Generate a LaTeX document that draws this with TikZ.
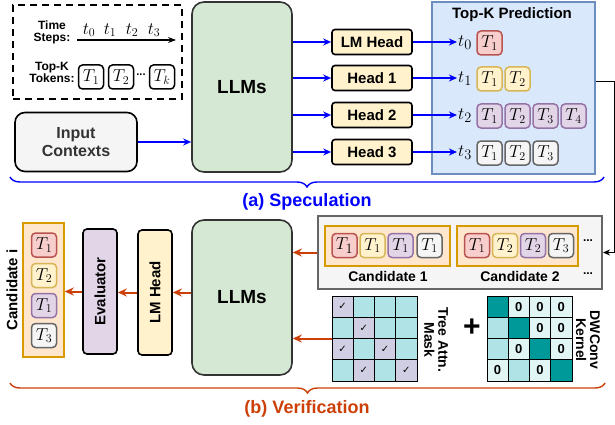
\documentclass[tikz,border=0pt]{standalone}
\usepackage{fontspec}
\setmainfont{Liberation Sans}
\newfontfamily\checkfont{DejaVu Sans}
\usepackage{graphicx}
\usetikzlibrary{arrows.meta}
\usetikzlibrary{decorations.pathreplacing}
\newcommand{\pxfont}[1]{\fontsize{#1}{#1}\selectfont}
\definecolor{specblue}{RGB}{0,0,255}
\definecolor{verorange}{RGB}{204,64,8}
\definecolor{llmfill}{HTML}{D5E8D4}
\definecolor{headfill}{HTML}{FFF2CC}
\definecolor{predfill}{HTML}{DAE8FC}
\definecolor{predline}{HTML}{6C8EBF}
\definecolor{redfill}{HTML}{F8CECC}
\definecolor{redline}{HTML}{B85450}
\definecolor{yelfill}{HTML}{FFF2CC}
\definecolor{yelline}{HTML}{D6B656}
\definecolor{purfill}{HTML}{E1D5E7}
\definecolor{purline}{HTML}{9673A6}
\definecolor{grayfill}{HTML}{F5F5F5}
\definecolor{grayline}{HTML}{666666}
\definecolor{candfill}{HTML}{FFE6CC}
\definecolor{candline}{HTML}{D79B00}
\definecolor{maskcell}{HTML}{B0E3E6}
\definecolor{maskpick}{HTML}{D0CEE2}
\definecolor{kerndiag}{HTML}{009999}
\definecolor{kernzero}{HTML}{E1F5F5}
\tikzstyle{box}=[draw, line width=1.6pt, inner sep=0pt]
\tikzstyle{llm}=[box, draw=black!80, fill=llmfill, rounded corners=12pt, minimum width=100pt, font=\pxfont{19}\bfseries]
\tikzstyle{head}=[box, fill=headfill, rounded corners=3pt, minimum width=80pt, minimum height=25pt, font=\pxfont{15}\bfseries]
\tikzstyle{vbox}=[box, rounded corners=4pt, minimum width=34pt, minimum height=125pt, font=\pxfont{15}\bfseries]
\tikzstyle{tok}=[box, line width=1.5pt, rounded corners=4pt, minimum width=25pt, minimum height=24pt, font=\pxfont{17}]
\tikzstyle{redtok}=[tok, draw=redline, fill=redfill]
\tikzstyle{yeltok}=[tok, draw=yelline, fill=yelfill]
\tikzstyle{purtok}=[tok, draw=purline, fill=purfill]
\tikzstyle{graytok}=[tok, draw=grayline, fill=grayfill]
\tikzstyle{legtok}=[tok, draw=black, fill=white]
\tikzstyle{cand}=[box, line width=1.5pt, draw=candline, fill=candfill]
\tikzstyle{lbl}=[inner sep=0pt, align=center, font=\pxfont{14}\bfseries]
\tikzstyle{tstep}=[inner sep=1pt, font=\pxfont{19}]
\tikzstyle{cell}=[draw, line width=0.8pt, minimum size=21.25pt, inner sep=0pt, font=\pxfont{13}\bfseries]
\tikzstyle{spec}=[-{Stealth[length=8pt,width=7pt]}, specblue, line width=1.5pt]
\tikzstyle{veri}=[-{Stealth[length=9pt,width=8pt]}, verorange, line width=2pt]
\tikzstyle{part}=[decorate, decoration={brace, mirror, amplitude=10pt}, line width=1.4pt]

\begin{document}
\begin{tikzpicture}[x=1pt, y=-1pt]
        \useasboundingbox (0,0) rectangle (615,425);
        % legend
        \node[box, dashed, dash pattern=on 7pt off 5pt, minimum width=169pt, minimum height=94pt] (legend) at (97.5,52) {};
        \node[lbl, font=\pxfont{12}\bfseries] (tslabel) at (52,32) {Time\\Steps:};
        \node[lbl, font=\pxfont{12}\bfseries] (toplabel) at (52,72) {Top-K\\Tokens:};
        \coordinate (tsstart) at (77,40);
        \coordinate (tsend) at (176,40);
        \draw[-{Stealth[length=8pt,width=6pt]}, line width=1.2pt] (tsstart) -- (tsend);
        \node[tstep, font=\pxfont{18}] (ts0) at (89,30) {$t_0$};
        \node[tstep, font=\pxfont{18}] (ts1) at (110,30) {$t_1$};
        \node[tstep, font=\pxfont{18}] (ts2) at (132,30) {$t_2$};
        \node[tstep, font=\pxfont{18}] (ts3) at (154,30) {$t_3$};
        \node[legtok] (lt1) at (91,77) {$T_1$};
        \node[legtok] (lt2) at (121,77) {$T_2$};
        \node[inner sep=0pt, font=\pxfont{11}\bfseries] (ltdots) at (141,75) {...};
        \node[legtok] (ltk) at (162,77) {$T_k$};
        % speculation
        \node[box, fill=grayfill, rounded corners=10pt, minimum width=122pt, minimum height=59pt, align=center, text=black!80, font=\pxfont{16}\bfseries] (ctx) at (76,142) {Input\\[2pt]Contexts};
        \node[llm, minimum height=170pt] (llmA) at (242,87) {LLMs};
        \node[head] (lmhead) at (372,42) {LM Head};
        \node[head] (head1) at (372,78) {Head 1};
        \node[head] (head2) at (372,115) {Head 2};
        \node[head] (head3) at (372,152) {Head 3};
        \draw[spec] (ctx.east) -- (llmA.west |- ctx.east);
        \draw[spec] (llmA.east |- lmhead) -- (lmhead.west);
        \draw[spec] (llmA.east |- head1) -- (head1.west);
        \draw[spec] (llmA.east |- head2) -- (head2.west);
        \draw[spec] (llmA.east |- head3) -- (head3.west);
        \node[box, line width=1.5pt, draw=predline, fill=predfill, minimum width=163pt, minimum height=172pt] (pred) at (513.5,88) {};
        \node[lbl, font=\pxfont{15}\bfseries] (predtitle) at (512,15) {Top-K Prediction};
        \node[tstep] (tk0) at (465,43) {$t_0$};
        \node[tstep] (tk1) at (465,79) {$t_1$};
        \node[tstep] (tk2) at (465,116) {$t_2$};
        \node[tstep] (tk3) at (465,153) {$t_3$};
        \draw[spec] (lmhead.east) -- (tk0.west |- lmhead);
        \draw[spec] (head1.east) -- (tk1.west |- head1);
        \draw[spec] (head2.east) -- (tk2.west |- head2);
        \draw[spec] (head3.east) -- (tk3.west |- head3);
        \node[redtok] (p01) at (489.5,43) {$T_1$};
        \node[yeltok] (p11) at (489.5,79) {$T_1$};
        \node[yeltok] (p12) at (517.5,79) {$T_2$};
        \node[purtok] (p21) at (489.5,116) {$T_1$};
        \node[purtok] (p22) at (517.5,116) {$T_2$};
        \node[purtok] (p23) at (545.5,116) {$T_3$};
        \node[purtok] (p24) at (573.5,116) {$T_4$};
        \node[graytok] (p31) at (489.5,153) {$T_1$};
        \node[graytok] (p32) at (517.5,153) {$T_2$};
        \node[graytok] (p33) at (545.5,153) {$T_3$};
        \coordinate (specl) at (10,177);
        \coordinate (specr) at (604,177);
        \draw[part, specblue] (specl) -- (specr);
        \node[lbl, text=specblue, font=\pxfont{18}\bfseries] (speclab) at (307,202) {(a) Speculation};
        % verification
        \node[box, line width=2pt, draw=grayline, fill=grayfill, minimum width=284pt, minimum height=73pt] (cands) at (460,252.5) {};
        \node[cand, minimum width=125pt, minimum height=40pt] (cand1) at (387.5,246) {};
        \node[cand, minimum width=121pt, minimum height=40pt] (cand2) at (517.5,246) {};
        \node[redtok, font=\pxfont{19}] (c11) at (344.5,245.5) {$T_1$};
        \node[yeltok] (c12) at (372.5,245.5) {$T_1$};
        \node[purtok] (c13) at (400.5,245.5) {$T_1$};
        \node[graytok] (c14) at (429.5,245.5) {$T_1$};
        \node[redtok] (c21) at (477,245.5) {$T_1$};
        \node[yeltok] (c22) at (505,245.5) {$T_2$};
        \node[purtok] (c23) at (533,245.5) {$T_2$};
        \node[graytok] (c24) at (561,245.5) {$T_3$};
        \node[inner sep=0pt, font=\pxfont{12}\bfseries] (dots1) at (588,241) {...};
        \node[inner sep=0pt, font=\pxfont{12}\bfseries] (dots2) at (588,274) {...};
        \node[lbl] (c1lab) at (388,276) {Candidate 1};
        \node[lbl] (c2lab) at (520,276) {Candidate 2};
        \coordinate (fbturn) at (614,82);
        \draw[-{Stealth[length=7pt,width=6pt]}, line width=1pt] (pred.east |- fbturn) -- (fbturn) -- (fbturn |- cands.east) -- (cands.east);
        % mask and kernel
        \node[minimum size=85pt, inner sep=0pt] (mask) at (374.5,338.5) {};
        \foreach \r in {0,...,3}
            \foreach \c in {0,...,3}
                \node[cell, fill=maskcell] (m\r\c) at ({342.6+21.25*\c},{306.6+21.25*\r}) {};
        \foreach \c/\r in {0/0,1/1,0/2,2/2,1/3,3/3}
            \node[cell, fill=maskpick, font=\checkfont\pxfont{10}] at ({342.6+21.25*\c},{306.6+21.25*\r}) {✓};
        \node[lbl, rotate=-90, font=\pxfont{14}\bfseries] (masklab) at (436,340) {Tree Attn.\\Mask};
        \node[inner sep=0pt, font=\pxfont{30}\bfseries] (plus) at (472,328) {+};
        \node[minimum size=85pt, inner sep=0pt] (kern) at (529.5,338.5) {};
        \foreach \r in {0,...,3}
            \foreach \c in {0,...,3}
                \node[cell, fill=maskcell] (k\r\c) at ({497.6+21.25*\c},{306.6+21.25*\r}) {};
        \foreach \c in {0,...,3}
            \node[cell, fill=kerndiag] at ({497.6+21.25*\c},{306.6+21.25*\c}) {};
        \foreach \c/\r in {1/0,2/0,3/0,2/1,3/1,1/2,3/2,0/3,2/3}
            \node[cell, fill=kernzero] at ({497.6+21.25*\c},{306.6+21.25*\r}) {0};
        \node[lbl, rotate=-90] (kernlab) at (588,340) {DWConv\\Kernel};
        \node[llm, minimum height=155pt] (llmB) at (242,297.5) {LLMs};
        \draw[veri] (cands.west) -- (llmB.east |- cands.west);
        \draw[veri] (mask.west) -- (llmB.east |- mask.west);
        \node[vbox, fill=headfill] (vhead) at (155,292.5) {\rotatebox{90}{LM Head}};
        \node[vbox, fill=purfill] (evalr) at (100,291.5) {\rotatebox{90}{Evaluator}};
        \node[cand, minimum width=41pt, minimum height=134pt] (candi) at (43.5,290) {};
        \node[redtok] (ci1) at (44,245) {$T_1$};
        \node[yeltok] (ci2) at (44,275.5) {$T_2$};
        \node[purtok] (ci3) at (44,305.5) {$T_1$};
        \node[graytok] (ci4) at (44,335.5) {$T_3$};
        \node[lbl, rotate=90, font=\pxfont{15}\bfseries] (cilab) at (12,290) {Candidate i};
        \draw[veri] (llmB.west |- vhead) -- (vhead.east);
        \draw[veri] (vhead.west) -- (evalr.east |- vhead.west);
        \draw[veri] (evalr.west) -- (candi.east |- evalr.west);
        \coordinate (veril) at (10,383);
        \coordinate (verir) at (605,383);
        \draw[part, verorange] (veril) -- (verir);
        \node[lbl, text=verorange, font=\pxfont{18}\bfseries] (verilab) at (307,409) {(b) Verification};
    \end{tikzpicture}
\end{document}
